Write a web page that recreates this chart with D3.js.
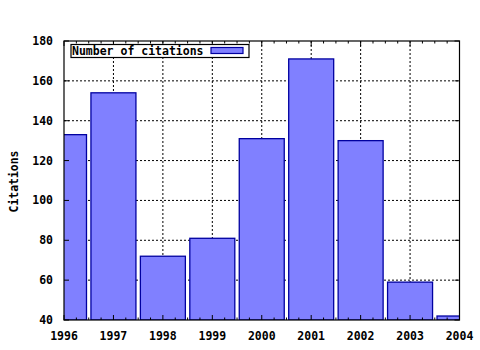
<!DOCTYPE html>
<html>
<head>
<meta charset="utf-8">
<script src="https://cdn.jsdelivr.net/npm/d3@7"></script>
<style>
  body { margin: 0; background: #fff; }
  text { font-family: "DejaVu Sans Mono", monospace; font-weight: bold; }
</style>
</head>
<body>
<svg id="chart"></svg>
<script>
// data
const years = [1996, 1997, 1998, 1999, 2000, 2001, 2002, 2003, 2004];
const citations = [133, 154, 72, 81, 131, 171, 130, 59, 42];
const yTicks = [40, 60, 80, 100, 120, 140, 160, 180];
const seriesName = "Number of citations";

const config = {
    width: 480,
    height: 350,
    margin: { top: 41, right: 20.5, bottom: 30, left: 64 },
    barWidth: 0.91
};

const innerW = config.width - config.margin.left - config.margin.right;
const innerH = config.height - config.margin.top - config.margin.bottom;

const svg = d3.select("#chart")
    .attr("width", config.width)
    .attr("height", config.height);

const chart = svg.append("g")
    .attr("transform", `translate(${config.margin.left}, ${config.margin.top})`);

const x = d3.scaleLinear().domain([1996, 2004]).range([0, innerW]);
const y = d3.scaleLinear().domain([40, 180]).range([innerH, 0]);

svg.append("defs").append("clipPath").attr("id", "plotclip")
    .append("rect").attr("width", innerW).attr("height", innerH);

// grid (dotted), behind bars
const gridX = years.slice(1, -1);
const gridY = yTicks.slice(1, -1);
chart.selectAll(".gx").data(gridX).join("line")
    .attr("x1", d => x(d)).attr("x2", d => x(d))
    .attr("y1", 0).attr("y2", innerH)
    .attr("stroke", "#000").attr("stroke-dasharray", "2,2");
chart.selectAll(".gy").data(gridY).join("line")
    .attr("x1", 0).attr("x2", innerW)
    .attr("y1", d => y(d)).attr("y2", d => y(d))
    .attr("stroke", "#000").attr("stroke-dasharray", "2,2");

// bars
const step = x(1997) - x(1996);
chart.append("g").attr("clip-path", "url(#plotclip)")
    .selectAll("rect")
    .data(years.map((yr, i) => ({ yr, v: citations[i] })))
    .join("rect")
    .attr("x", d => x(d.yr) - step * config.barWidth / 2)
    .attr("width", step * config.barWidth)
    .attr("y", d => y(d.v))
    .attr("height", d => innerH - y(d.v))
    .attr("fill", "#8080ff")
    .attr("stroke", "#0000a0")
    .attr("stroke-width", 1.3);

// ticks pointing inward, mirrored on top/right
const minorX = d3.range(1996, 2004.001, 0.25).filter(v => !years.includes(v));
const tickG = chart.append("g").attr("stroke", "#000");
const xTickData = years.map(v => ({ v, len: 5 })).concat(minorX.map(v => ({ v, len: 2.5 })));
tickG.selectAll(".tb").data(xTickData).join("line")
    .attr("x1", d => x(d.v)).attr("x2", d => x(d.v))
    .attr("y1", innerH).attr("y2", d => innerH - d.len);
tickG.selectAll(".tt").data(xTickData).join("line")
    .attr("x1", d => x(d.v)).attr("x2", d => x(d.v))
    .attr("y1", 0).attr("y2", d => d.len);
tickG.selectAll(".tl").data(yTicks).join("line")
    .attr("x1", 0).attr("x2", 5)
    .attr("y1", d => y(d)).attr("y2", d => y(d));
tickG.selectAll(".tr").data(yTicks).join("line")
    .attr("x1", innerW).attr("x2", innerW - 5)
    .attr("y1", d => y(d)).attr("y2", d => y(d));

// frame
chart.append("rect")
    .attr("width", innerW).attr("height", innerH)
    .attr("fill", "none").attr("stroke", "#000").attr("stroke-width", 1.2);

// tick labels
chart.selectAll(".yl").data(yTicks).join("text")
    .attr("x", -11).attr("y", d => y(d) + 4)
    .attr("text-anchor", "end")
    .attr("font-size", "11.5px")
    .text(d => d);
chart.selectAll(".xl").data(years).join("text")
    .attr("x", d => x(d)).attr("y", innerH + 20)
    .attr("text-anchor", "middle")
    .attr("font-size", "11.5px")
    .text(d => d);

// axis title
svg.append("text")
    .attr("transform", "translate(18, 181.5) rotate(-90)")
    .attr("text-anchor", "middle")
    .attr("font-size", "11.5px")
    .attr("textLength", 62)
    .attr("lengthAdjust", "spacingAndGlyphs")
    .text("Citations");

// legend
const leg = svg.append("g");
leg.append("rect")
    .attr("x", 71).attr("y", 44.5).attr("width", 178).attr("height", 13)
    .attr("fill", "#fff").attr("stroke", "#000").attr("stroke-width", 1.2);
leg.append("text")
    .attr("x", 72).attr("y", 55)
    .attr("font-size", "11.5px")
    .text(seriesName);
leg.append("rect")
    .attr("x", 211).attr("y", 47.5).attr("width", 32).attr("height", 6)
    .attr("fill", "#8080ff").attr("stroke", "#0000a0").attr("stroke-width", 1.2);
</script>
</body>
</html>
